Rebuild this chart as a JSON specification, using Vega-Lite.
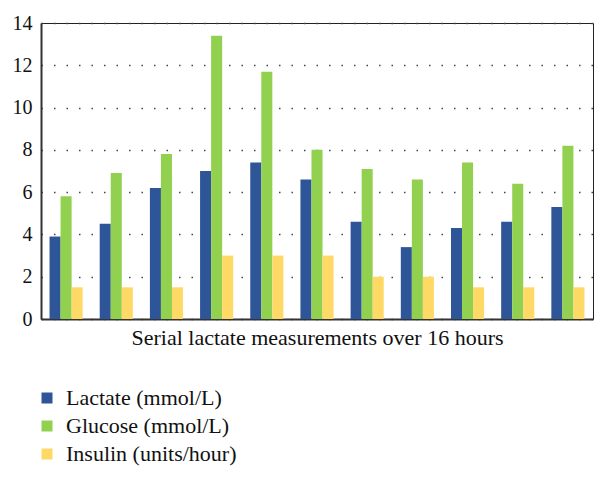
{
  "$schema": "https://vega.github.io/schema/vega-lite/v6.json",
  "width": 552,
  "height": 296,
  "autosize": {"type": "none"},
  "padding": {"left": 41, "top": 23, "right": 14, "bottom": 159},
  "background": "white",
  "data": {
    "values": [
      {"t": 1, "series": "Lactate (mmol/L)", "value": 3.9},
      {"t": 1, "series": "Glucose (mmol/L)", "value": 5.8},
      {"t": 1, "series": "Insulin (units/hour)", "value": 1.5},
      {"t": 2, "series": "Lactate (mmol/L)", "value": 4.5},
      {"t": 2, "series": "Glucose (mmol/L)", "value": 6.9},
      {"t": 2, "series": "Insulin (units/hour)", "value": 1.5},
      {"t": 3, "series": "Lactate (mmol/L)", "value": 6.2},
      {"t": 3, "series": "Glucose (mmol/L)", "value": 7.8},
      {"t": 3, "series": "Insulin (units/hour)", "value": 1.5},
      {"t": 4, "series": "Lactate (mmol/L)", "value": 7.0},
      {"t": 4, "series": "Glucose (mmol/L)", "value": 13.4},
      {"t": 4, "series": "Insulin (units/hour)", "value": 3.0},
      {"t": 5, "series": "Lactate (mmol/L)", "value": 7.4},
      {"t": 5, "series": "Glucose (mmol/L)", "value": 11.7},
      {"t": 5, "series": "Insulin (units/hour)", "value": 3.0},
      {"t": 6, "series": "Lactate (mmol/L)", "value": 6.6},
      {"t": 6, "series": "Glucose (mmol/L)", "value": 8.0},
      {"t": 6, "series": "Insulin (units/hour)", "value": 3.0},
      {"t": 7, "series": "Lactate (mmol/L)", "value": 4.6},
      {"t": 7, "series": "Glucose (mmol/L)", "value": 7.1},
      {"t": 7, "series": "Insulin (units/hour)", "value": 2.0},
      {"t": 8, "series": "Lactate (mmol/L)", "value": 3.4},
      {"t": 8, "series": "Glucose (mmol/L)", "value": 6.6},
      {"t": 8, "series": "Insulin (units/hour)", "value": 2.0},
      {"t": 9, "series": "Lactate (mmol/L)", "value": 4.3},
      {"t": 9, "series": "Glucose (mmol/L)", "value": 7.4},
      {"t": 9, "series": "Insulin (units/hour)", "value": 1.5},
      {"t": 10, "series": "Lactate (mmol/L)", "value": 4.6},
      {"t": 10, "series": "Glucose (mmol/L)", "value": 6.4},
      {"t": 10, "series": "Insulin (units/hour)", "value": 1.5},
      {"t": 11, "series": "Lactate (mmol/L)", "value": 5.3},
      {"t": 11, "series": "Glucose (mmol/L)", "value": 8.2},
      {"t": 11, "series": "Insulin (units/hour)", "value": 1.5}
    ]
  },
  "config": {
    "font": "Liberation Serif",
    "view": {"stroke": "#222222", "strokeWidth": 1}
  },
  "mark": {"type": "bar"},
  "encoding": {
    "x": {
      "field": "t",
      "type": "nominal",
      "scale": {"paddingInner": 0.34, "paddingOuter": 0.17},
      "axis": {
        "title": "Serial lactate measurements over 16 hours",
        "labels": false,
        "ticks": false,
        "domainColor": "#333333",
        "domainWidth": 2,
        "titleFont": "Liberation Serif",
        "titleFontSize": 22,
        "titleFontWeight": "normal",
        "titleColor": "#111111",
        "titlePadding": 8
      }
    },
    "xOffset": {
      "field": "series",
      "type": "nominal",
      "sort": ["Lactate (mmol/L)", "Glucose (mmol/L)", "Insulin (units/hour)"],
      "scale": {"paddingInner": 0, "paddingOuter": 0}
    },
    "y": {
      "field": "value",
      "type": "quantitative",
      "scale": {"domain": [0, 14], "nice": false},
      "axis": {
        "title": null,
        "values": [0, 2, 4, 6, 8, 10, 12, 14],
        "ticks": false,
        "labelFont": "Liberation Serif",
        "labelFontSize": 20,
        "labelColor": "#111111",
        "labelPadding": 9,
        "domainColor": "#333333",
        "domainWidth": 2,
        "grid": true,
        "gridColor": "#444444",
        "gridDash": [1.5, 11],
        "gridWidth": 1.5
      }
    },
    "color": {
      "field": "series",
      "type": "nominal",
      "scale": {
        "domain": ["Lactate (mmol/L)", "Glucose (mmol/L)", "Insulin (units/hour)"],
        "range": ["#2E5597", "#92D050", "#FFD966"]
      },
      "legend": {
        "title": null,
        "orient": "none",
        "legendX": -5,
        "legendY": 364,
        "symbolType": "square",
        "symbolSize": 121,
        "symbolStrokeWidth": 0,
        "labelFont": "Liberation Serif",
        "labelFontSize": 22,
        "labelColor": "#111111",
        "labelOffset": 8,
        "rowPadding": 6,
        "labelLimit": 400
      }
    }
  }
}
